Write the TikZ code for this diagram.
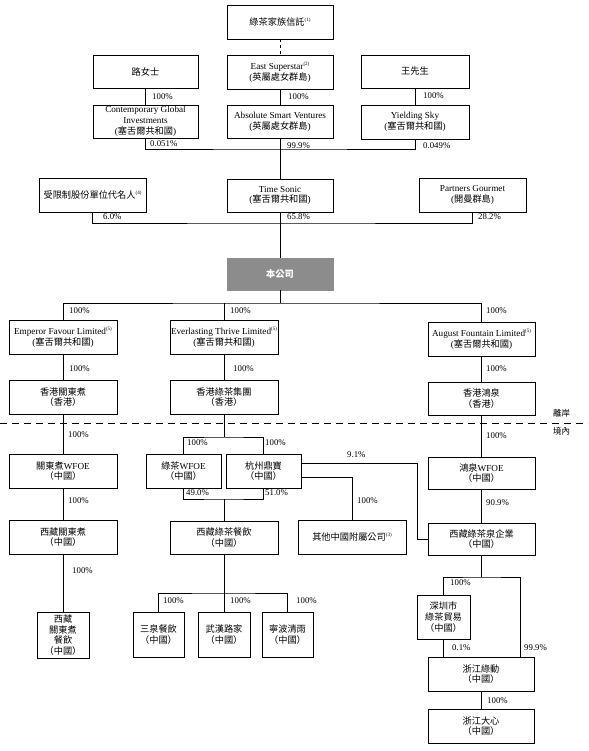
\documentclass[tikz,border=0pt]{standalone}
\usepackage{fontspec}
\setmainfont{Liberation Serif}
\newfontfamily\cjk{Noto Sans CJK TC}
\newcommand{\zh}[1]{{\cjk #1}}
\newcommand{\sups}[1]{\raisebox{0.5em}{\fontsize{5}{5}\selectfont(#1)}}
\newcommand{\bx}[7][]{\node[box,#1,minimum width={(#4-#3)*1pt},minimum height={(#6-#5)*1pt}] (#2) at ({(#3+#4)/2},{(#5+#6)/2}) {#7};}
\definecolor{cogray}{HTML}{8C8C8C}
\begin{document}
\begin{tikzpicture}[x=1pt,y=-1pt,
  box/.style={draw,line width=0.9pt,align=center,inner sep=0pt,font=\fontsize{9.2}{10.8}\selectfont},
  pct/.style={anchor=west,inner sep=0pt,font=\fontsize{8.8}{10}\selectfont},
  conn/.style={line width=0.9pt},
  side/.style={anchor=west,inner sep=0pt,font=\cjk\fontsize{8.5}{10}\selectfont},
]
\useasboundingbox (0,0) rectangle (588,751);

% ---- boxes
\bx{trust}{227}{333}{5}{39}{\zh{綠茶家族信託}\sups{1}}
\bx{lu}{93}{198}{55}{88}{\zh{路女士}}
\bx{east}{227}{333}{55}{89}{East Superstar\sups{2}\\(\zh{英屬處女群島})}
\bx{wang}{361}{469}{55}{88}{\zh{王先生}}
\bx{cgi}{93}{198}{105}{138}{Contemporary Global\\Investments\\(\zh{塞舌爾共和國})}
\bx{asv}{227}{333}{105}{138}{Absolute Smart Ventures\\(\zh{英屬處女群島})}
\bx{ys}{361}{469}{105}{139}{Yielding Sky\\(\zh{塞舌爾共和國})}
\bx{rsu}{39}{146}{178}{212}{\zh{受限制股份單位代名人}\sups{4}}
\bx{ts}{227}{333}{179}{212}{Time Sonic\\(\zh{塞舌爾共和國})}
\bx{pg}{419}{526}{178}{212}{Partners Gourmet\\(\zh{開曼群島})}
\bx[fill=cogray,draw=cogray,text=white]{co}{227}{333}{258}{290}{\zh{\bfseries 本公司}}
\bx{ef}{9}{117}{320}{354}{Emperor Favour Limited\sups{5}\\(\zh{塞舌爾共和國})}
\bx{et}{170}{278}{320}{354}{Everlasting Thrive Limited\sups{5}\\(\zh{塞舌爾共和國})}
\bx{af}{428}{535}{322}{356}{August Fountain Limited\sups{5}\\(\zh{塞舌爾共和國})}
\bx{hk1}{9}{117}{380}{414}{\zh{香港關東煮}\\\zh{（香港）}}
\bx{hk2}{170}{278}{380}{414}{\zh{香港綠茶集團}\\\zh{（香港）}}
\bx{hk3}{428}{535}{382}{415}{\zh{香港鴻泉}\\\zh{（香港）}}
\bx{wfoe1}{9}{117}{454}{488}{\zh{關東煮}WFOE\\\zh{（中國）}}
\bx{gw}{146}{221}{454}{488}{\zh{綠茶}WFOE\\\zh{（中國）}}
\bx{hz}{226}{301}{454}{488}{\zh{杭州鼎寶}\\\zh{（中國）}}
\bx{hq}{428}{535}{457}{489}{\zh{鴻泉}WFOE\\\zh{（中國）}}
\bx{xz1}{9}{117}{520}{554}{\zh{西藏關東煮}\\\zh{（中國）}}
\bx{xzgt}{170}{278}{521}{554}{\zh{西藏綠茶餐飲}\\\zh{（中國）}}
\bx{other}{298}{406}{520}{554}{\zh{其他中國附屬公司}\sups{3}}
\bx{xzq}{428}{535}{523}{555}{\zh{西藏綠茶泉企業}\\\zh{（中國）}}
\bx{xz1c}{37}{89}{612}{658}{\zh{西藏}\\\zh{關東煮}\\\zh{餐飲}\\\zh{（中國）}}
\bx{sq}{133}{184}{612}{657}{\zh{三泉餐飲}\\\zh{（中國）}}
\bx{wh}{198}{250}{612}{657}{\zh{武漢路家}\\\zh{（中國）}}
\bx{nb}{262}{313}{612}{657}{\zh{寧波清雨}\\\zh{（中國）}}
\bx{sz}{417}{470}{595}{639}{\zh{深圳市}\\\zh{綠茶貿易}\\\zh{（中國）}}
\bx{zjld}{428}{534}{657}{691}{\zh{浙江綠動}\\\zh{（中國）}}
\bx{zjdx}{428}{534}{709}{743}{\zh{浙江大心}\\\zh{（中國）}}

% ---- junction coordinates
\coordinate (j1) at (280,149);
\coordinate (j2) at (280,223);
\coordinate (j3) at (280,303);
\coordinate (j4) at (224,437);
\coordinate (j5) at (224,499);
\coordinate (j6) at (481.5,577);
\coordinate (j7) at (224,593);
\coordinate (r1) at (520,657);
\coordinate (k1) at (417,463);
\coordinate (dl) at (0,423);
\coordinate (dr) at (588,423);

% ---- connectors
\draw[conn,dashed] (trust.south) -- (east.north);
\draw[conn] (lu.south) -- (cgi.north);
\draw[conn] (east.south) -- (asv.north);
\draw[conn] (wang.south) -- (ys.north);
\draw[conn] (cgi.south) |- (j1) -| (ys.south);
\draw[conn] (asv.south) -- (ts.north);
\draw[conn] (rsu.south) |- (j2) -| (pg.south);
\draw[conn] (ts.south) -- (co.north);
\draw[conn] (co.south) -- (j3);
\draw[conn] (ef.north) |- (j3) -| (af.north);
\draw[conn] (et.north) -- (et.north |- j3);
\draw[conn] (ef.south) -- (hk1.north);
\draw[conn] (et.south) -- (hk2.north);
\draw[conn] (af.south) -- (hk3.north);
\draw[conn,dash pattern=on 7pt off 5pt] (dl) -- (dr);
\draw[conn] (hk1.south) -- (wfoe1.north);
\draw[conn] (hk2.south) -- (j4);
\draw[conn] (gw.north) |- (j4) -| (hz.north);
\draw[conn] (gw.south) |- (j5) -| (hz.south);
\draw[conn] (j5) -- (xzgt.north);
\draw[conn] (hk3.south) -- (hq.north);
\draw[conn] (hq.south) -- (xzq.north);
\draw[conn] (hz.east |- k1) -- (k1) |- (xzq.west);
\draw[conn] ([yshift=-6pt]hz.east) -| (other.north);
\draw[conn] (wfoe1.south) -- (xz1.north);
\draw[conn] (xz1.south) -- (xz1c.north);
\draw[conn] (xzgt.south) -- (wh.north);
\draw[conn] (sq.north) |- (j7) -| (nb.north);
\draw[conn] (xzq.south) -- (j6);
\draw[conn] (sz.north) |- (j6) -| (r1);
\draw[conn] (sz.south) -- (sz.south |- zjld.north);
\draw[conn] (zjld.south) -- (zjdx.north);

% ---- percentage labels
\node[pct] (l1) at (152,97) {100\%};
\node[pct] (l2) at (288,97) {100\%};
\node[pct] (l3) at (423,96) {100\%};
\node[pct] (l4) at (150,144) {0.051\%};
\node[pct] (l5) at (287,146) {99.9\%};
\node[pct] (l6) at (423,146) {0.049\%};
\node[pct] (l7) at (103,217) {6.0\%};
\node[pct] (l8) at (287,217) {65.8\%};
\node[pct] (l9) at (478,217) {28.2\%};
\node[pct] (l10) at (69,311) {100\%};
\node[pct] (l11) at (230,311) {100\%};
\node[pct] (l12) at (486,311) {100\%};
\node[pct] (l13) at (69,369) {100\%};
\node[pct] (l14) at (233,369) {100\%};
\node[pct] (l15) at (486,369) {100\%};
\node[pct] (l16) at (68,435) {100\%};
\node[pct] (l17) at (486,436) {100\%};
\node[pct] (l18) at (187,443) {100\%};
\node[pct] (l19) at (265,443) {100\%};
\node[pct] (l20) at (186,493) {49.0\%};
\node[pct] (l21) at (265,493) {51.0\%};
\node[pct] (l22) at (347,455) {9.1\%};
\node[pct] (l23) at (357,501) {100\%};
\node[pct] (l24) at (68,501) {100\%};
\node[pct] (l25) at (486,503) {90.9\%};
\node[pct] (l26) at (72,571) {100\%};
\node[pct] (l27) at (163,601) {100\%};
\node[pct] (l28) at (230,601) {100\%};
\node[pct] (l29) at (296,601) {100\%};
\node[pct] (l30) at (450,583) {100\%};
\node[pct] (l31) at (452,648) {0.1\%};
\node[pct] (l32) at (524,648) {99.9\%};
\node[pct] (l33) at (487,701) {100\%};

% ---- side labels
\node[side] (off) at (553,413) {離岸};
\node[side] (on) at (553,431) {境內};
\end{tikzpicture}
\end{document}
